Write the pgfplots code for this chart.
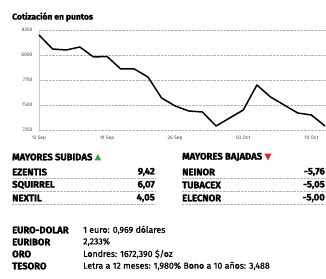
\documentclass[border=0pt]{standalone}
\usepackage{pgfplots}
\pgfplotsset{compat=1.18}
\usepackage{fontspec}
\setmainfont{Fira Sans}[BoldFeatures={FakeBold=1.5}]
\newfontfamily\medium{Fira Sans}[UprightFeatures={FakeBold=0.8}]
\definecolor{upgreen}{RGB}{40,170,70}
\definecolor{downred}{RGB}{225,30,45}
\begin{document}
\begin{tikzpicture}[x=1pt,y=1pt]
\path[use as bounding box, fill=white] (0,0) rectangle (326,278);
\node[anchor=west, font=\fontsize{8.5}{9}\selectfont\bfseries, inner sep=0] at (12,261) {Cotización en puntos};
\begin{axis}[
  at={(39pt,148pt)}, anchor=south west, scale only axis,
  width=286pt, height=100pt,
  xmin=0, xmax=21, ymin=7250, ymax=8250,
  axis lines*=left, separate axis lines,
  x axis line style={draw=none},
  y axis line style={draw=gray!40},
  xtick={0,5,10,15,20},
  xticklabels={12 Sep,19 Sep,26 Sep,03 Oct,10 Oct},
  xtick style={draw=none},
  ytick={7250,7500,7750,8000,8250},
  ytick style={draw=gray!60, line width=0.5pt},
  major tick length=2pt,
  ymajorgrids, grid style={densely dotted, gray!60},
  ticklabel style={font=\fontsize{5}{5}\selectfont, text=gray!60!black},
  /pgf/number format/1000 sep={},
  /pgf/number format/assume math mode=true,
  yticklabel style={xshift=-3pt},
  xticklabel style={yshift=-2pt},
  clip=false,
]
\addplot[black, line width=1.5pt, line join=round] coordinates {
(0,8200) (1,8060) (2,8050) (3,8080) (4,7980) (5,7985) (6,7860) (7,7860)
(8,7780) (9,7570) (10,7490) (11,7440) (12,7430) (13,7290) (14,7370)
(15,7450) (16,7700) (17,7580) (18,7500) (19,7420) (20,7400) (21,7290)
};
\end{axis}
% tables
\begin{scope}[font=\fontsize{9.5}{10}\selectfont\bfseries]
\node[anchor=west, inner sep=0] (h1) at (12,121) {MAYORES SUBIDAS};
\fill[upgreen] ([xshift=2pt,yshift=-3.3pt]h1.east) -- ++(6.5,0) -- ++(-3.25,6.3) -- cycle;
\node[anchor=west, inner sep=0] (h2) at (182,121) {MAYORES BAJADAS};
\fill[downred] ([xshift=2pt,yshift=3.3pt]h2.east) -- ++(7,0) -- ++(-3.5,-6.5) -- cycle;
\foreach \n/\v/\y in {EZENTIS/9{,}42/106, SQUIRREL/6{,}07/93, NEXTIL/4{,}05/80} {
  \node[anchor=west, inner sep=0] at (12,\y) {\n};
  \node[anchor=east, inner sep=0] at (155,\y) {\v};
  \draw[gray!60, densely dotted, line width=0.4pt] (12,\y-6) -- (155,\y-6);
}
\foreach \n/\v/\y in {NEINOR/-5{,}76/106, TUBACEX/-5{,}05/93, ELECNOR/-5{,}00/80} {
  \node[anchor=west, inner sep=0] at (182,\y) {\n};
  \node[anchor=east, inner sep=0] at (325,\y) {\v};
  \draw[gray!60, densely dotted, line width=0.4pt] (182,\y-6) -- (325,\y-6);
}
\node[anchor=west, inner sep=0] at (12,48) {EURO-DOLAR};
\node[anchor=west, inner sep=0] at (12,36) {EURIBOR};
\node[anchor=west, inner sep=0] at (12,24) {ORO};
\node[anchor=west, inner sep=0] at (12,12) {TESORO};
\end{scope}
\begin{scope}[font=\fontsize{8.8}{9}\selectfont\medium]
\node[anchor=west, inner sep=0] at (83,48) {1 euro: 0,969 dólares};
\node[anchor=west, inner sep=0] at (83,36) {2,233\%};
\node[anchor=west, inner sep=0] at (83,24) {Londres: 1672,390 \$/oz};
\node[anchor=west, inner sep=0] at (83,12) {Letra a 12 meses: 1,980\% Bono a 10 años: 3,488};
\end{scope}
\end{tikzpicture}
\end{document}
